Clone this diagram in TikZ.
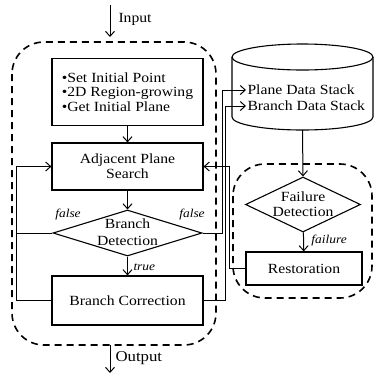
\documentclass[tikz,border=0pt]{standalone}
\usepackage{fontspec}
\setmainfont[FakeStretch=1.12]{Liberation Serif}
\usetikzlibrary{arrows.meta,shapes.geometric}
\begin{document}
\begin{tikzpicture}[x=1pt,y=-1pt,
  font=\fontsize{14}{15}\selectfont,
  line width=1pt,
  proc/.style={draw, line width=1.2pt, minimum width=151pt, inner sep=0pt, align=center},
  dec/.style={draw, diamond, line width=1.1pt, inner sep=0pt},
  arr/.style={-{Straight Barb[length=5pt,width=9pt]}},
  grp/.style={dash pattern=on 7pt off 5pt, line width=1.6pt, rounded corners=32pt},
  lbl/.style={font=\fontsize{12}{13}\selectfont\itshape, inner sep=0pt},
  txt/.style={inner sep=0pt, align=center}]
\useasboundingbox (0,0) rectangle (374,376);

% groups
\draw[grp] (12,42) rectangle (216,345);
\draw[grp] (233,164) rectangle (372,298);

% left flow
\node[proc, minimum height=67pt, align=left, font=\fontsize{14}{14.5}\selectfont] (init) at (127.5,92) {•Set Initial  Point\\•2D Region-growing\\•Get Initial Plane};
\node[proc, minimum height=47pt] (adj) at (127.5,166.5) {Adjacent Plane\\Search};
\node[dec, minimum width=149pt, minimum height=46pt] (bd) at (127.5,233) {};
\node[txt, font=\fontsize{14}{17}\selectfont] (bdt) at (127.5,232) {Branch\\Detection};
\node[proc, minimum height=49pt] (bc) at (127.5,300.5) {Branch Correction};

% data stack cylinder
\draw[line width=1.1pt] (302.5,57) ellipse [x radius=70.5pt, y radius=13pt];
\draw[line width=1.1pt] (232,57) -- (232,117) arc[start angle=180, end angle=360, x radius=70.5pt, y radius=13pt] -- (373,57);
\coordinate (cylbot) at (302.5,130);
\node[anchor=west, inner sep=1pt] (pds) at (246,90) {Plane Data Stack};
\node[anchor=west, inner sep=1pt] (bds) at (246,106) {Branch Data Stack};

% right flow
\node[dec, minimum width=115pt, minimum height=55pt] (fd) at (303,204.5) {};
\node[txt] (fdt) at (303,204.5) {Failure\\Detection};
\node[proc, minimum width=116pt, minimum height=33pt] (rest) at (304,268.5) {Restoration};

% input / output
\coordinate (inTop) at (110,5);
\coordinate (inEnd) at (110,37);
\draw[arr] (inTop) -- (inEnd);
\node[anchor=west, inner sep=0pt] (inl) at (118,19) {Input};
\coordinate (outS) at (110,345);
\coordinate (outE) at (110,373);
\draw[arr] (outS) -- (outE);
\node[anchor=west, inner sep=0pt, font=\fontsize{15}{16}\selectfont] (outl) at (115,358) {Output};

% connectors
\coordinate (lx) at (17,0);
\coordinate (r1) at (222,0);
\coordinate (r2) at (225,0);
\coordinate (r3) at (229,0);
\draw[arr] (init) -- (adj);
\draw[arr] (adj) -- (bd);
\draw[arr] (bd) -- (bc);
\node[lbl, anchor=west] (truel) at (133,267) {true};
\draw[arr] (bc.west) -- (bc.west -| lx) -- (adj.west -| lx) -- (adj.west);
\draw (bd.west) -- (bd.west -| lx);
\node[lbl] (f1) at (68,215) {false};
\node[lbl] (f2) at (192,215) {false};
\draw[arr] (bd.east) -- (bd.east -| r1) -- (pds.west -| r1) -- (pds.west);
\draw[arr] (bc.east) -- (bc.east -| r2) -- (bds.west -| r2) -- (bds.west);
\draw[arr] (rest.west) -- (rest.west -| r3) -- (adj.east -| r3) -- (adj.east);
\draw[arr] (cylbot) -- (fd.north);
\draw[arr] (fd) -- (rest);
\node[lbl, anchor=west] (faill) at (311,241) {failure};
\end{tikzpicture}
\end{document}
